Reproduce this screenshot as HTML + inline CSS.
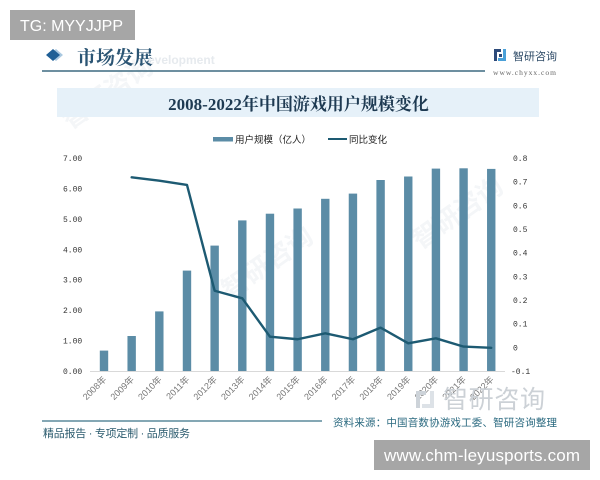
<!DOCTYPE html>
<html>
<head>
<meta charset="utf-8">
<style>
html,body{margin:0;padding:0;background:#fff;}
svg{display:block;}
</style>
</head>
<body>
<svg width="600" height="480" viewBox="0 0 600 480" xmlns="http://www.w3.org/2000/svg">
  <rect x="0" y="0" width="600" height="480" fill="#ffffff"/>

  <!-- faint watermarks -->
  <g fill="#f4f6f8" font-family="Liberation Sans, Noto Sans CJK SC, sans-serif" font-weight="bold">
    <text x="70" y="130" font-size="26" transform="rotate(-35 70 130)">智研咨询</text>
    <text x="230" y="300" font-size="26" transform="rotate(-35 230 300)">智研咨询</text>
    <text x="420" y="250" font-size="26" transform="rotate(-35 420 250)">智研咨询</text>
  </g>

  <!-- TG box -->
  <rect x="10" y="10" width="125" height="30" fill="#a6a6a6"/>
  <text x="20" y="31" font-family="Liberation Sans, sans-serif" font-size="16" fill="#ffffff" textLength="103">TG: MYYJJPP</text>

  <!-- header -->
  <polygon points="56,49 63,55 56,61 49,55" fill="#a9c8e0"/>
  <polygon points="53,49 60,55 53,61 46,55" fill="#1f5f96"/>
  <text x="77" y="64" font-family="Liberation Serif, Noto Serif CJK SC, serif" font-size="19" font-weight="bold" fill="#2b5574">市场发展</text>
  <text x="148" y="64" font-family="Liberation Sans, sans-serif" font-size="12" font-weight="bold" fill="#e6eaee">evelopment</text>
  <line x1="42" y1="71" x2="485" y2="71" stroke="#3d6a80" stroke-width="1.5"/>

  <!-- logo -->
  <rect x="494" y="49" width="7" height="3" fill="#2d4a7a"/>
  <rect x="494" y="49" width="3" height="12" fill="#2d4a7a"/>
  <rect x="499" y="54" width="3" height="3" fill="#2d4a7a"/>
  <rect x="503" y="49" width="3" height="12" fill="#4aa0d8"/>
  <rect x="498" y="58" width="8" height="3" fill="#4aa0d8"/>
  <text x="513" y="60" font-family="Liberation Sans, Noto Sans CJK SC, sans-serif" font-size="11" fill="#2d4a66">智研咨询</text>
  <text x="493" y="75" font-family="Liberation Serif, serif" font-size="7.5" fill="#666" textLength="63">www.chyxx.com</text>

  <!-- title band -->
  <rect x="57" y="88" width="482" height="29" fill="#e6f1f9"/>
  <text x="298.5" y="110" text-anchor="middle" font-family="Liberation Serif, Noto Serif CJK SC, serif" font-size="17" font-weight="bold" fill="#1e3a52">2008-2022年中国游戏用户规模变化</text>

  <!-- legend -->
  <rect x="213" y="137" width="20" height="4.5" fill="#5b8ca6"/>
  <text x="235" y="143" font-family="Liberation Sans, Noto Sans CJK SC, sans-serif" font-size="9.5" fill="#222">用户规模（亿人）</text>
  <line x1="328" y1="139" x2="347" y2="139" stroke="#1d5a72" stroke-width="2"/>
  <text x="349" y="143" font-family="Liberation Sans, Noto Sans CJK SC, sans-serif" font-size="9.5" fill="#222">同比变化</text>

  <!-- left axis labels -->
  <g font-family="Liberation Mono, monospace" font-size="8" fill="#333">
    <text x="63" y="161">7.00</text>
    <text x="63" y="191.4">6.00</text>
    <text x="63" y="221.9">5.00</text>
    <text x="63" y="252.3">4.00</text>
    <text x="63" y="282.7">3.00</text>
    <text x="63" y="313.1">2.00</text>
    <text x="63" y="343.6">1.00</text>
    <text x="63" y="374">0.00</text>
  </g>

  <!-- right axis labels -->
  <g font-family="Liberation Mono, monospace" font-size="8" fill="#333">
    <text x="513" y="160.9">0.8</text>
    <text x="513" y="184.6">0.7</text>
    <text x="513" y="208.3">0.6</text>
    <text x="513" y="231.9">0.5</text>
    <text x="513" y="255.6">0.4</text>
    <text x="513" y="279.3">0.3</text>
    <text x="513" y="303">0.2</text>
    <text x="513" y="326.6">0.1</text>
    <text x="513" y="350.3">0</text>
    <text x="511" y="374">-0.1</text>
  </g>

  <!-- bars -->
  <g fill="#5b8ca6">
    <rect x="99.8" y="350.6" width="8.4" height="20.4"/>
    <rect x="127.46" y="336.0" width="8.4" height="35.0"/>
    <rect x="155.12" y="311.4" width="8.4" height="59.6"/>
    <rect x="182.78" y="270.6" width="8.4" height="100.4"/>
    <rect x="210.44" y="245.6" width="8.4" height="125.4"/>
    <rect x="238.1" y="220.4" width="8.4" height="150.6"/>
    <rect x="265.76" y="213.7" width="8.4" height="157.3"/>
    <rect x="293.42" y="208.5" width="8.4" height="162.5"/>
    <rect x="321.08" y="198.8" width="8.4" height="172.2"/>
    <rect x="348.74" y="193.6" width="8.4" height="177.4"/>
    <rect x="376.4" y="180.0" width="8.4" height="191.0"/>
    <rect x="404.06" y="176.5" width="8.4" height="194.5"/>
    <rect x="431.72" y="168.6" width="8.4" height="202.4"/>
    <rect x="459.38" y="168.3" width="8.4" height="202.7"/>
    <rect x="487.04" y="168.9" width="8.4" height="202.1"/>
  </g>

  <!-- baseline -->
  <line x1="90" y1="371.5" x2="505" y2="371.5" stroke="#d9d9d9" stroke-width="1"/>

  <!-- line series -->
  <polyline fill="none" stroke="#1d5a72" stroke-width="2.4" stroke-linejoin="round" stroke-linecap="round"
    points="131.66,177.35 159.32,180.66 186.98,184.92 214.64,290.73 242.3,298.3 269.96,336.65 297.62,339.25 325.28,333.33 352.94,339.25 380.6,327.65 408.26,343.28 435.92,338.3 463.58,346.59 491.24,347.77"/>

  <!-- x labels -->
  <g font-family="Liberation Sans, Noto Sans CJK SC, sans-serif" font-size="9" fill="#777" text-anchor="end">
    <text transform="translate(107,380) rotate(-45)">2008年</text>
    <text transform="translate(134.66,380) rotate(-45)">2009年</text>
    <text transform="translate(162.32,380) rotate(-45)">2010年</text>
    <text transform="translate(189.98,380) rotate(-45)">2011年</text>
    <text transform="translate(217.64,380) rotate(-45)">2012年</text>
    <text transform="translate(245.3,380) rotate(-45)">2013年</text>
    <text transform="translate(272.96,380) rotate(-45)">2014年</text>
    <text transform="translate(300.62,380) rotate(-45)">2015年</text>
    <text transform="translate(328.28,380) rotate(-45)">2016年</text>
    <text transform="translate(355.94,380) rotate(-45)">2017年</text>
    <text transform="translate(383.6,380) rotate(-45)">2018年</text>
    <text transform="translate(411.26,380) rotate(-45)">2019年</text>
    <text transform="translate(438.92,380) rotate(-45)">2020年</text>
    <text transform="translate(466.58,380) rotate(-45)">2021年</text>
    <text transform="translate(494.24,380) rotate(-45)">2022年</text>
  </g>

  <!-- big watermark logo -->
  <rect x="416" y="391" width="10" height="4" fill="#cdd3d9"/>
  <rect x="416" y="391" width="4" height="17" fill="#cdd3d9"/>
  <rect x="430" y="391" width="4" height="17" fill="#dde2e7"/>
  <rect x="422" y="404" width="12" height="4" fill="#dde2e7"/>
  <text x="443" y="408" font-family="Liberation Sans, Noto Sans CJK SC, sans-serif" font-size="25" fill="#ccd1d6" textLength="102">智研咨询</text>

  <!-- footer -->
  <line x1="42" y1="421" x2="322" y2="421" stroke="#5b8a9c" stroke-width="1.5"/>
  <text x="43" y="437" font-family="Liberation Sans, Noto Sans CJK SC, sans-serif" font-size="11" fill="#2b5b6e" textLength="147">精品报告 · 专项定制 · 品质服务</text>
  <text x="333" y="426" font-family="Liberation Sans, Noto Sans CJK SC, sans-serif" font-size="10.5" fill="#2b6a80" textLength="224">资料来源：中国音数协游戏工委、智研咨询整理</text>

  <!-- bottom box -->
  <rect x="374" y="440" width="216" height="30" fill="#a6a6a6"/>
  <text x="384" y="461" font-family="Liberation Sans, sans-serif" font-size="17" fill="#ffffff" textLength="196">www.chm-leyusports.com</text>
</svg>
</body>
</html>
